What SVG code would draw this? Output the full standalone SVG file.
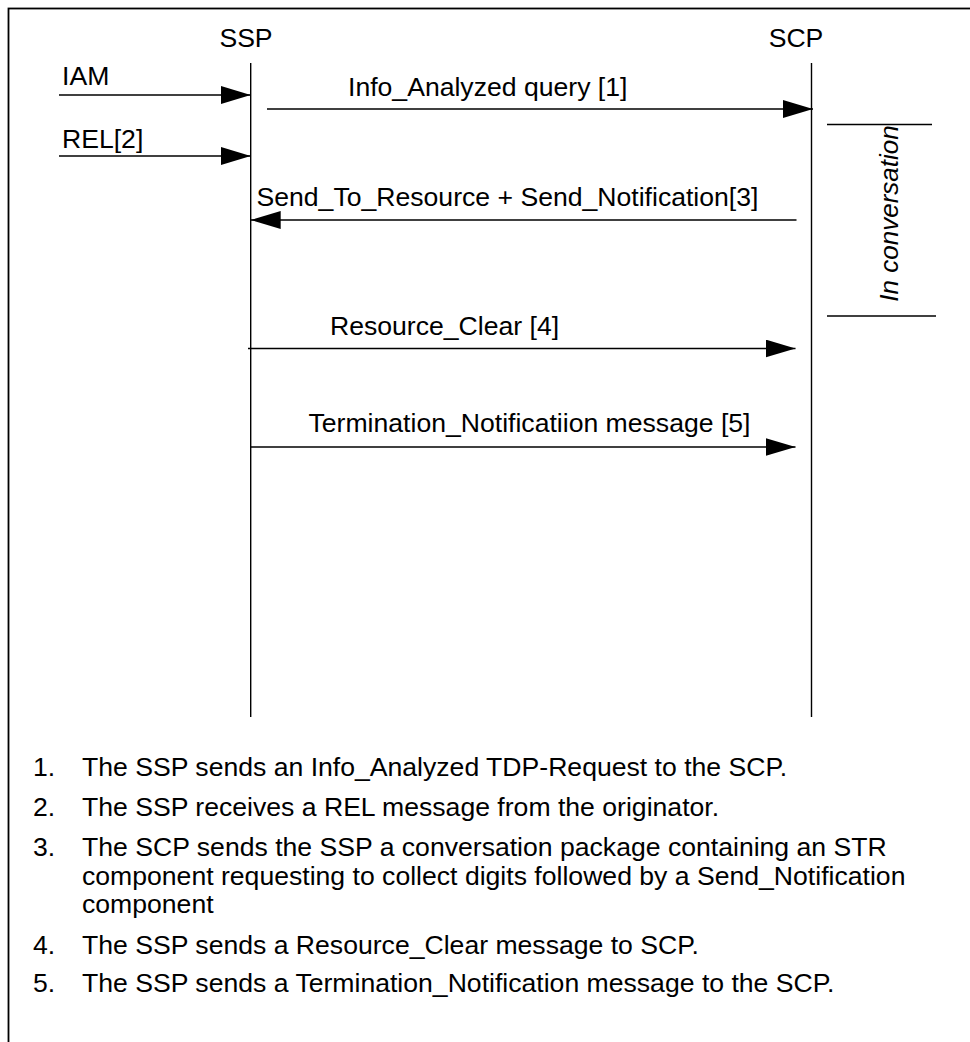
<svg xmlns="http://www.w3.org/2000/svg" width="970" height="1042" viewBox="0 0 970 1042">
  <style>
    .lbl { font-family: "Liberation Sans", Arial, sans-serif; font-size: 26.6px; fill: #000; }
    .ital { font-style: italic; font-size: 26px; }
    .life { stroke: #000; stroke-width: 1.4; fill: none; }
    .msg { stroke: #000; stroke-width: 1.5; fill: none; marker-end: url(#head); }
    .rule { stroke: #000; stroke-width: 1.5; fill: none; }
  </style>
  <defs>
    <marker id="head" markerUnits="userSpaceOnUse" markerWidth="30" markerHeight="18" refX="30" refY="9" orient="auto">
      <path d="M0,0 L30,9 L0,18 Z" fill="#000"/>
    </marker>
  </defs>

  <rect width="970" height="1042" fill="#fff"/>
  <!-- outer frame, open to the right and bottom edges -->
  <rect x="8.5" y="8.5" width="1000" height="1100" fill="none" stroke="#000" stroke-width="1.8"/>

  <!-- SSP lifeline -->
  <g id="ssp">
    <text class="lbl" x="246" y="47" text-anchor="middle">SSP</text>
    <line class="life" x1="250.7" y1="63" x2="250.7" y2="717"/>
  </g>

  <!-- SCP lifeline -->
  <g id="scp">
    <text class="lbl" x="796" y="47" text-anchor="middle">SCP</text>
    <line class="life" x1="811.5" y1="63" x2="811.5" y2="717"/>
  </g>

  <!-- in-conversation span -->
  <g id="in-conversation">
    <line class="rule" x1="827" y1="124.5" x2="932" y2="124.5"/>
    <line class="rule" x1="827" y1="316" x2="936" y2="316"/>
    <text class="lbl ital" transform="translate(898,213.5) rotate(-90)" text-anchor="middle">In conversation</text>
  </g>

  <!-- messages -->
  <g id="connectors">
    <line class="msg" x1="59" y1="95" x2="250.7" y2="95"/>
    <line class="msg" x1="59" y1="156" x2="250.7" y2="156"/>
    <line class="msg" x1="267" y1="109" x2="813" y2="109"/>
    <line class="msg" x1="796.5" y1="220" x2="250.7" y2="220"/>
    <line class="msg" x1="248" y1="348.5" x2="795.5" y2="348.5"/>
    <line class="msg" x1="250.7" y1="447" x2="795.5" y2="447"/>
  </g>

  <g id="message-labels">
    <text class="lbl" x="62" y="85">IAM</text>
    <text class="lbl" x="62" y="148">REL[2]</text>
    <text class="lbl" x="348" y="96">Info_Analyzed query [1]</text>
    <text class="lbl" x="256.5" y="206">Send_To_Resource + Send_Notification[3]</text>
    <text class="lbl" x="330" y="335">Resource_Clear [4]</text>
    <text class="lbl" x="308.5" y="432">Termination_Notificatiion message [5]</text>
  </g>

  <!-- numbered notes -->
  <g id="notes" class="lbl">
    <text x="33" y="776">1.</text>
    <text x="82" y="776">The SSP sends an Info_Analyzed TDP-Request to the SCP.</text>
    <text x="33" y="815.5">2.</text>
    <text x="82" y="815.5">The SSP receives a REL message from the originator.</text>
    <text x="33" y="855.5">3.</text>
    <text x="82" y="855.5">The SCP sends the SSP a conversation package containing an STR</text>
    <text x="82" y="884.5">component requesting to collect digits followed by a Send_Notification</text>
    <text x="82" y="913">component</text>
    <text x="33" y="953.5">4.</text>
    <text x="82" y="953.5">The SSP sends a Resource_Clear message to SCP.</text>
    <text x="33" y="992">5.</text>
    <text x="82" y="992">The SSP sends a Termination_Notification message to the SCP.</text>
  </g>
</svg>
